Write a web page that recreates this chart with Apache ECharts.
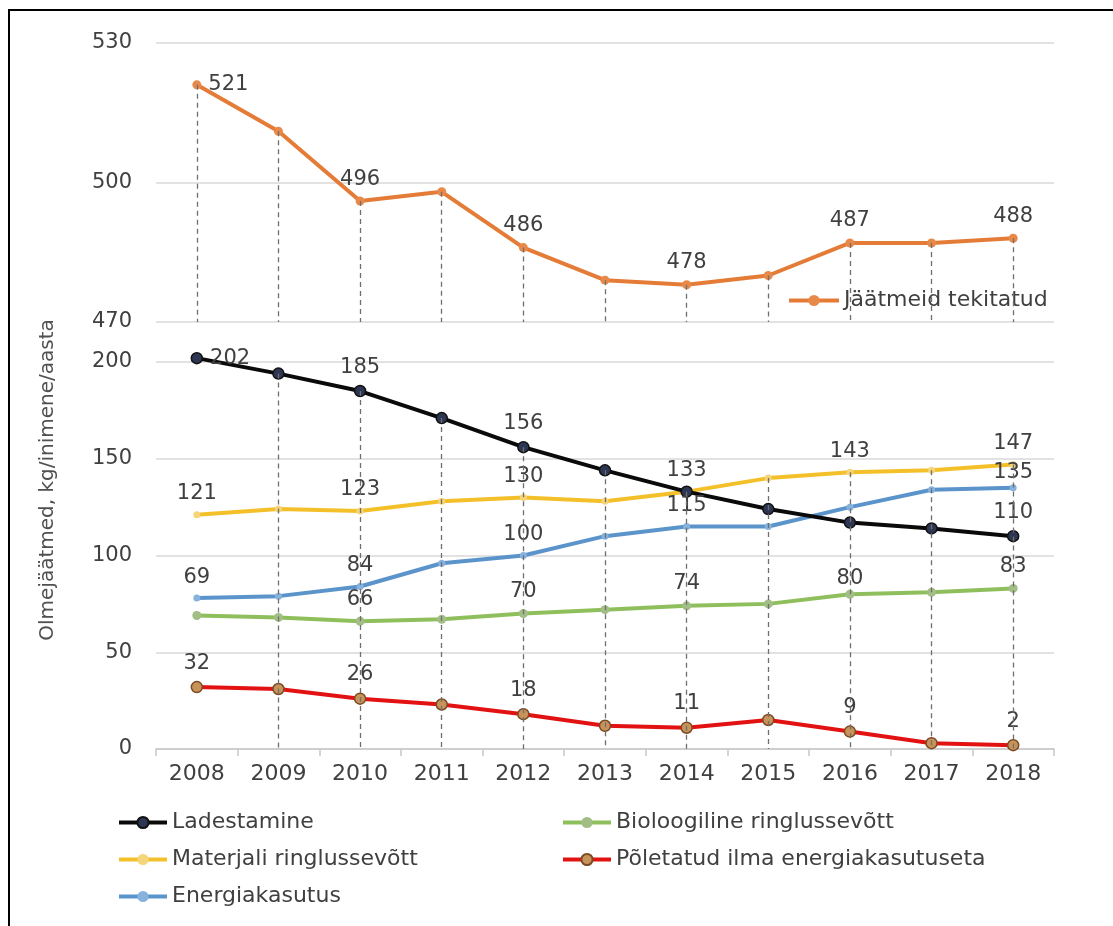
<!DOCTYPE html>
<html>
<head>
<meta charset="utf-8">
<script src="https://cdn.jsdelivr.net/npm/echarts@6/dist/echarts.min.js"></script>
<style>html,body{margin:0;padding:0;background:#fff}#c{width:1113px;height:926px}</style>
</head>
<body>
<div id="c"></div>
<script>
const years = ['2008','2009','2010','2011','2012','2013','2014','2015','2016','2017','2018'];
const generated = [521,511,496,498,486,479,478,480,487,487,488];
const landfill  = [202,194,185,171,156,144,133,124,117,114,110];
const material  = [121,124,123,128,130,128,133,140,143,144,147];
const energy    = [78,79,84,96,100,110,115,115,125,134,135];
const bio       = [69,68,66,67,70,72,74,75,80,81,83];
const burned    = [32,31,26,23,18,12,11,15,9,3,2];

const generatedLabels = [521,null,496,null,486,null,478,null,487,null,488];
const landfillLabels  = [202,null,185,null,156,null,null,null,null,null,110];
const materialLabels  = [121,null,123,null,130,null,133,null,143,null,147];
const energyLabels    = [69,null,84,null,100,null,115,null,null,null,135];
const bioLabels       = [null,null,66,null,70,null,74,null,80,null,83];
const burnedLabels    = [32,null,26,null,18,null,11,null,9,null,2];

const topTicks = [470, 500, 530];
const bottomTicks = [0, 50, 100, 150, 200];

const names = {
  gen: 'Jäätmeid tekitatud',
  land: 'Ladestamine',
  mat: 'Materjali ringlussevõtt',
  en: 'Energiakasutus',
  bio: 'Bioloogiline ringlussevõtt',
  burn: 'Põletatud ilma energiakasutuseta'
};

const FONT = 'DejaVu Sans';
const TXT = '#404040';

function pts(values, labels, firstPos, near) {
  return values.map((v, i) => ({
    value: v,
    label: {
      show: labels[i] != null,
      formatter: labels[i] != null ? String(labels[i]) : '',
      position: (i === 0 && firstPos) ? firstPos : 'top',
      distance: (near && near.indexOf(i) >= 0) ? 1 : 7
    }
  }));
}

const topMin = topTicks[0], topMax = topTicks[topTicks.length - 1];
const botMin = bottomTicks[0], botMax = bottomTicks[bottomTicks.length - 1];
const maxima = years.map((_, i) => Math.max(landfill[i], material[i], energy[i], bio[i], burned[i]));

const dropStyle = { type: [5, 4], color: '#6f6f6f', width: 1.3 };

function lineSeries(name, values, labels, color, mColor, mSize, mBorder, xi, firstPos, near) {
  return {
    name: name, type: 'line', xAxisIndex: xi, yAxisIndex: xi,
    data: pts(values, labels, firstPos, near),
    symbol: 'circle', symbolSize: mSize, showAllSymbol: true,
    lineStyle: { color: color, width: 4 },
    itemStyle: { color: mColor, borderColor: mBorder || mColor, borderWidth: mBorder ? 1.5 : 0 },
    label: { color: TXT, fontFamily: FONT, fontSize: 21, distance: 7 },
    z: 3, clip: false, animation: false
  };
}

const legendText = { color: TXT, fontFamily: FONT, fontSize: 22, lineHeight: 23 };

const option = {
  animation: false,
  backgroundColor: '#fff',
  graphic: [
    { type: 'rect', shape: { x: 9, y: 10, width: 1200, height: 1000 },
      style: { fill: 'none', stroke: '#000', lineWidth: 2 }, silent: true, z: 0 },
    { type: 'text', x: 48, y: 480, rotation: Math.PI / 2,
      style: { text: 'Olmejäätmed, kg/inimene/aasta', fill: '#505050', font: '20px "DejaVu Sans"',
        align: 'center', verticalAlign: 'middle' } }
  ],
  grid: [
    { left: 156, right: 59, top: 43, height: 279 },
    { left: 156, right: 59, top: 362, height: 387 }
  ],
  xAxis: [
    { type: 'category', gridIndex: 0, data: years, boundaryGap: true,
      axisLine: { show: false }, axisTick: { show: false }, axisLabel: { show: false } },
    { type: 'category', gridIndex: 1, data: years, boundaryGap: true,
      axisLine: { show: true, lineStyle: { color: '#c8c8c8', width: 1.5 } },
      axisTick: { show: true, length: 7, lineStyle: { color: '#c8c8c8', width: 1.5 } },
      axisLabel: { color: TXT, fontFamily: FONT, fontSize: 22, margin: 14 } }
  ],
  yAxis: [
    { type: 'value', gridIndex: 0, min: topMin, max: topMax, interval: 30,
      axisLine: { show: false }, axisTick: { show: false },
      axisLabel: { color: TXT, fontFamily: FONT, fontSize: 21, margin: 24 },
      splitLine: { lineStyle: { color: '#d9d9d9', width: 1.5 } } },
    { type: 'value', gridIndex: 1, min: botMin, max: botMax, interval: 50,
      axisLine: { show: false }, axisTick: { show: false },
      axisLabel: { color: TXT, fontFamily: FONT, fontSize: 21, margin: 24 },
      splitLine: { lineStyle: { color: '#d9d9d9', width: 1.5 } } }
  ],
  legend: [
    { data: [names.gen], left: 782, top: 284, itemWidth: 50, itemHeight: 14,
      lineStyle: { width: 4 }, textStyle: legendText },
    { data: [names.land, names.mat, names.en], orient: 'vertical', left: 112, top: 806,
      itemWidth: 48, itemHeight: 14, itemGap: 14, lineStyle: { width: 4 },
      textStyle: legendText },
    { data: [names.bio, names.burn], orient: 'vertical', left: 556, top: 806,
      itemWidth: 48, itemHeight: 14, itemGap: 14, lineStyle: { width: 4 },
      textStyle: legendText }
  ],
  series: [
    { name: 'dropTop', type: 'line', xAxisIndex: 0, yAxisIndex: 0, data: generated,
      showSymbol: false, lineStyle: { opacity: 0 }, z: 1, silent: true,
      markLine: { silent: true, symbol: ['none', 'none'], label: { show: false },
        lineStyle: dropStyle, animation: false,
        data: generated.map((v, i) => [{ coord: [i, v] }, { coord: [i, topMin] }]) } },
    { name: 'dropBottom', type: 'line', xAxisIndex: 1, yAxisIndex: 1, data: maxima,
      showSymbol: false, lineStyle: { opacity: 0 }, z: 1, silent: true,
      markLine: { silent: true, symbol: ['none', 'none'], label: { show: false },
        lineStyle: dropStyle, animation: false,
        data: maxima.map((v, i) => [{ coord: [i, v] }, { coord: [i, botMin] }]) } },
    lineSeries(names.gen, generated, generatedLabels, '#E47C37', '#E8894A', 9, null, 0, 'right'),
    lineSeries(names.bio, bio, bioLabels, '#8FBF5C', '#A3BD86', 9, null, 1, null, [8]),
    lineSeries(names.mat, material, materialLabels, '#F4C02A', '#F5D57A', 7, null, 1),
    lineSeries(names.en, energy, energyLabels, '#5B94CB', '#86B2DD', 7, null, 1, null, [10]),
    lineSeries(names.burn, burned, burnedLabels, '#E21212', '#C8935A', 11, '#7a4a22', 1),
    lineSeries(names.land, landfill, landfillLabels, '#0a0a0a', '#2d3652', 11, '#111111', 1, 'right')
  ]
};

echarts.init(document.getElementById('c'), null, { renderer: 'canvas' }).setOption(option);
</script>
</body>
</html>
